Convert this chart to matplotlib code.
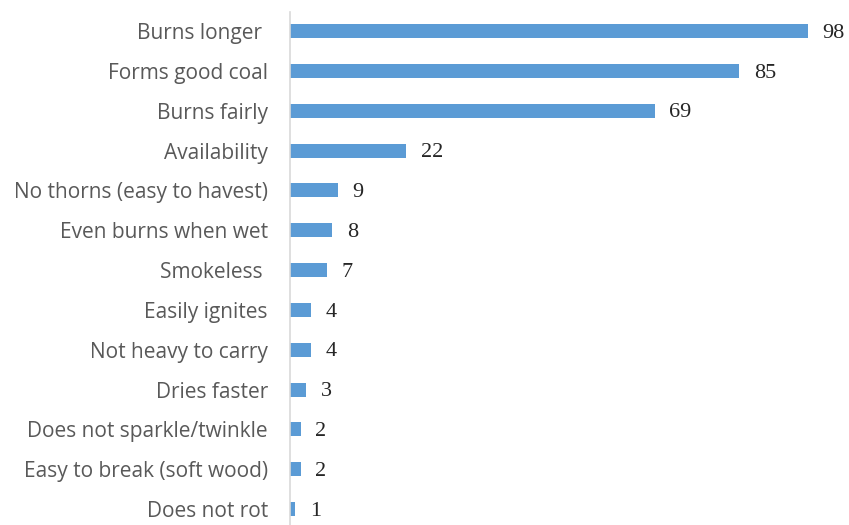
import matplotlib.pyplot as plt

# Datos (de arriba hacia abajo)
categorias = [
    'Burns longer ',
    'Forms good coal',
    'Burns fairly',
    'Availability',
    'No thorns (easy to havest)',
    'Even burns when wet',
    'Smokeless ',
    'Easily ignites',
    'Not heavy to carry',
    'Dries faster',
    'Does not sparkle/twinkle',
    'Easy to break (soft wood)',
    'Does not rot',
]
valores = [98, 85, 69, 22, 9, 8, 7, 4, 4, 3, 2, 2, 1]

fig = plt.figure(figsize=(8.49, 5.25), dpi=100)
ax = fig.add_axes([290 / 849, 0.0, (818.6 - 290) / 849, 513 / 525])

posiciones = list(range(len(categorias)))
ax.barh(posiciones, valores, height=0.35, color='#5B9BD5')

for y, v in zip(posiciones, valores):
    ax.annotate(str(v), xy=(v, y), xytext=(10.5, -1.5), textcoords='offset points',
                va='center', ha='left', fontsize=16,
                family='Liberation Serif', color='#262626')

ax.set_xlim(0, 100)
ax.set_ylim(12.4, -0.48)
ax.set_yticks(posiciones)
ax.set_yticklabels(categorias, family='Open Sans', fontsize=15, color='#595959')
ax.tick_params(axis='y', length=0, pad=16)
ax.set_xticks([])

for lado in ['top', 'right', 'bottom']:
    ax.spines[lado].set_visible(False)
ax.spines['left'].set_color('#D9D9D9')
ax.spines['left'].set_linewidth(1.2)

fig.savefig('out.png', dpi=100)
